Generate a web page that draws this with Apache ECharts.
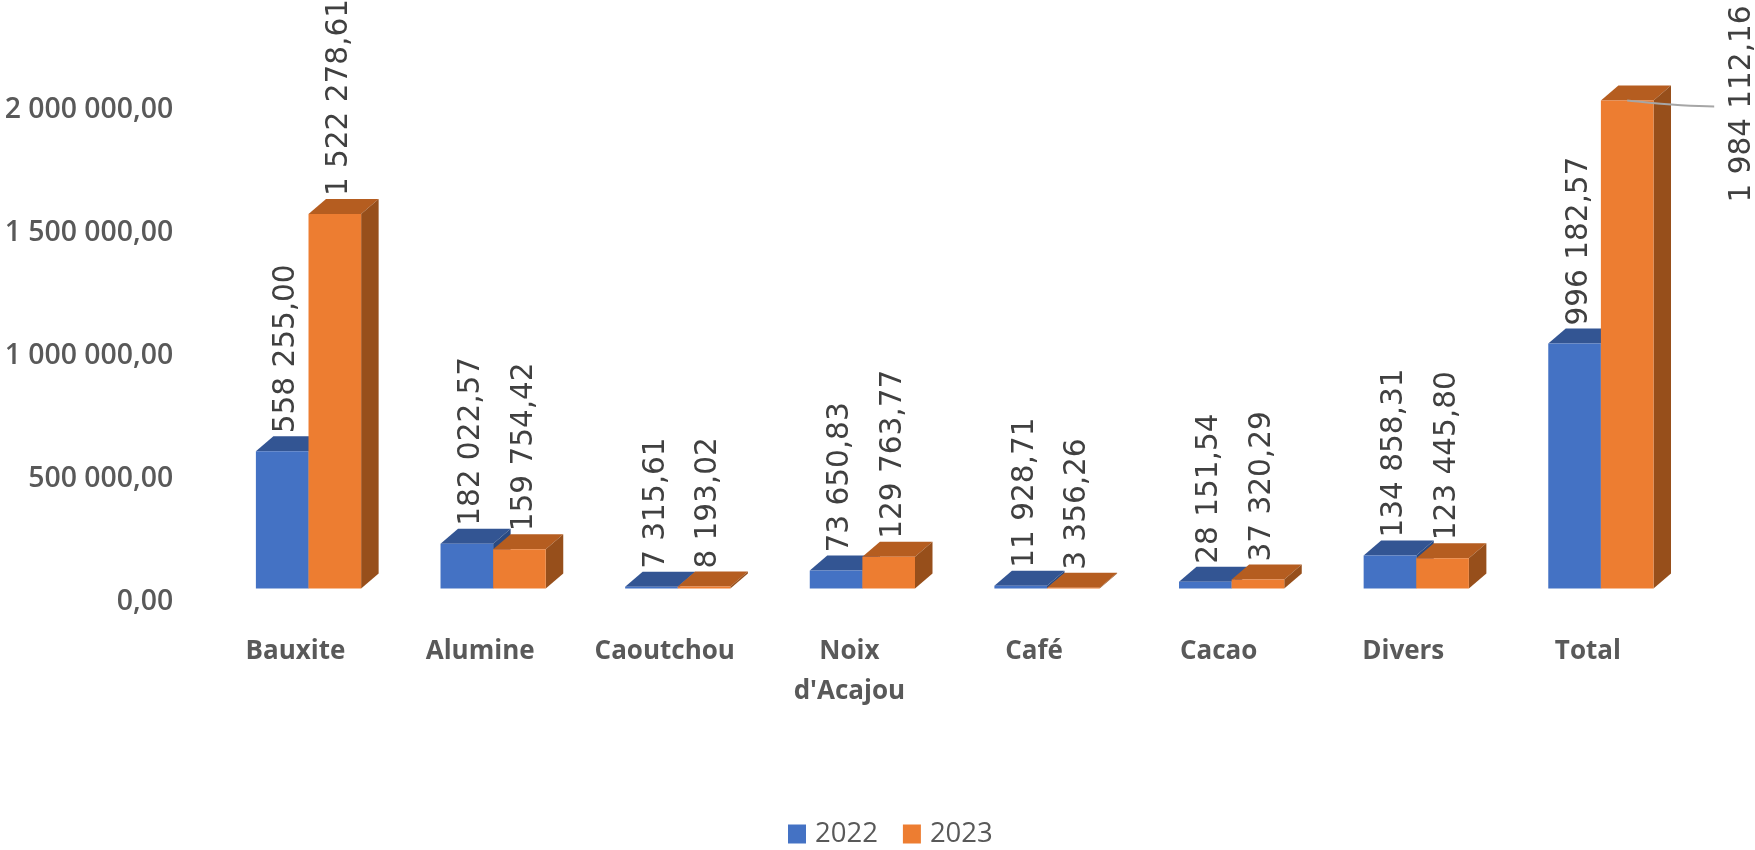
<!DOCTYPE html>
<html><head><meta charset="utf-8">
<style>html,body{margin:0;padding:0;background:#fff}#c{width:1755px;height:850px}</style>
<script src="https://cdn.jsdelivr.net/npm/echarts@6/dist/echarts.min.js"></script>
</head><body><div id="c"></div>
<script>
const categories = ['Bauxite','Alumine','Caoutchou',"Noix\nd'Acajou",'Café','Cacao','Divers','Total'];
const values2022 = [558255.00,182022.57,7315.61,73650.83,11928.71,28151.54,134858.31,996182.57];
const values2023 = [1522278.61,159754.42,8193.02,129763.77,3356.26,37320.29,123445.80,1984112.16];
const yTicks = {min:0,max:2000000,interval:500000};
const BLUE='#4472C4',BLUE_TOP='#335593',BLUE_SIDE='#2A4A82';
const ORANGE='#ED7D31',ORANGE_TOP='#B55D20',ORANGE_SIDE='#974F1B';
const TEXT='#595959';
const DX=17.5,DY=15,WIDTH_RATIO=0.285;

function fr(v){
  const p=v.toFixed(2).split('.');
  return p[0].replace(/\B(?=(\d{3})+(?!\d))/g,' ')+','+p[1];
}
function depth(slot,topC,sideC){
  return function(params,api){
    const i=api.value(0),v=api.value(1);
    const band=api.size([1,0])[0];
    const w=band*WIDTH_RATIO;
    const c=api.coord([i,v]),b=api.coord([i,0]);
    const l=c[0]+slot*w,r=l+w,t=c[1],bt=b[1];
    return {type:'group',children:[
      {type:'polygon',shape:{points:[[l,t],[l+DX,t-DY],[r+DX,t-DY],[r,t]]},style:{fill:topC}},
      {type:'polygon',shape:{points:[[r,t],[r+DX,t-DY],[r+DX,bt-DY],[r,bt]]},style:{fill:sideC}}
    ]};
  };
}
function lab(){
  return {show:true,position:'top',rotate:90,align:'left',verticalAlign:'middle',distance:18,offset:[0,4.5],
    color:'#404040',fontFamily:'DejaVu Sans',fontSize:29.5,formatter:p=>fr(p.value)};
}
const chart=echarts.init(document.getElementById('c'),null,{renderer:'canvas'});
const data23=values2023.map((v,i)=>i===7?{value:v,label:{offset:[-120,115.5]}}:v);
chart.setOption({
  animation:false,
  backgroundColor:'#fff',
  grid:{left:216.2,right:61.8,top:96.6,bottom:261.4,containLabel:false},
  legend:{data:['2022','2023'],left:788,top:820,padding:0,itemWidth:18,itemHeight:19,itemGap:25,icon:'rect',
    textStyle:{color:TEXT,fontFamily:'Open Sans',fontSize:27.5,padding:[0,0,0,4]}},
  xAxis:{type:'category',data:categories,axisLine:{show:false},axisTick:{show:false},
    axisLabel:{interval:0,margin:43,color:TEXT,fontFamily:'Open Sans',fontWeight:'bold',fontSize:26,lineHeight:40,padding:[0,26,0,0]}},
  yAxis:{type:'value',min:yTicks.min,max:yTicks.max,interval:yTicks.interval,axisLine:{show:false},axisTick:{show:false},splitLine:{show:false},
    axisLabel:{margin:43,color:TEXT,fontFamily:'Open Sans',fontSize:28.4,fontWeight:600,verticalAlign:'top',lineHeight:26,formatter:v=>fr(v)}},
  series:[
    {name:'2022',type:'custom',z:1,clip:false,silent:true,itemStyle:{color:BLUE},renderItem:depth(-1,BLUE_TOP,BLUE_SIDE),encode:{x:0,y:1},data:values2022.map((v,i)=>[i,v])},
    {name:'2022',type:'bar',z:2,barWidth:(WIDTH_RATIO*100)+'%',barGap:'0%',itemStyle:{color:BLUE},label:lab(),data:values2022},
    {name:'2023',type:'custom',z:3,clip:false,silent:true,itemStyle:{color:ORANGE},renderItem:depth(0,ORANGE_TOP,ORANGE_SIDE),encode:{x:0,y:1},data:values2023.map((v,i)=>[i,v])},
    {name:'2023',type:'bar',z:4,barWidth:(WIDTH_RATIO*100)+'%',barGap:'0%',itemStyle:{color:ORANGE},label:lab(),data:data23},
    {name:'2023',type:'custom',z:5,clip:false,silent:true,itemStyle:{color:ORANGE},renderItem:function(params,api){
      const i=api.value(0);if(i!==7)return null;
      const w=api.size([1,0])[0]*WIDTH_RATIO;
      const c=api.coord([i,api.value(1)]);
      const m=c[0]+w/2;
      return {type:'bezierCurve',shape:{x1:m,y1:c[1],x2:m+87,y2:c[1]+6,cpx1:m+30,cpy1:c[1]+3,cpx2:m+55,cpy2:c[1]+6},style:{stroke:'#A6A6A6',lineWidth:2,fill:null}};
    },encode:{x:0,y:1},data:values2023.map((v,i)=>[i,v])}
  ]
});
</script></body></html>
